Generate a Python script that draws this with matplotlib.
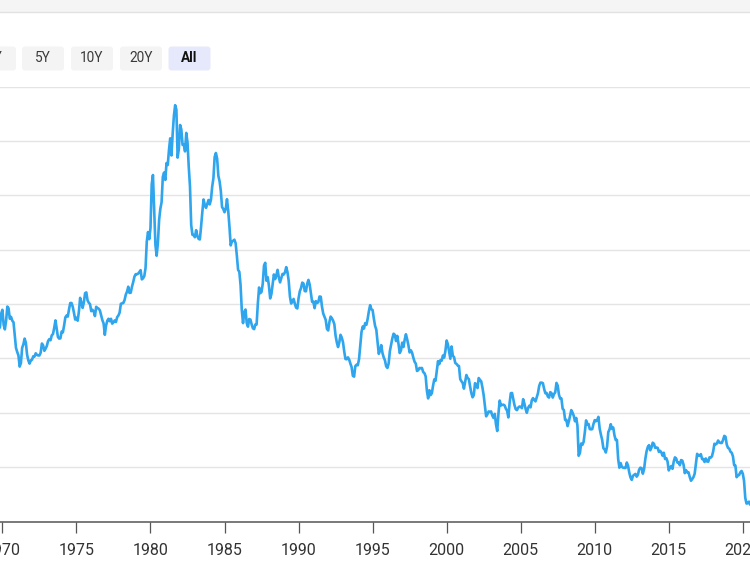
import matplotlib
matplotlib.use("Agg")
import matplotlib.pyplot as plt
from matplotlib.patches import FancyBboxPatch, Rectangle
import numpy as np

# ---- data: monthly values, starting Oct 1969 ----
start_year = 1969 + 9 / 12.0
vals_1969_1979 = [
    7.10, 7.14, 7.65,
    7.79, 7.24, 7.07, 7.39, 7.91, 7.84, 7.46, 7.53, 7.39, 7.33, 6.84, 6.39,
    6.24, 6.11, 5.70, 5.83, 6.39, 6.52, 6.73, 6.58, 6.14, 5.93, 5.81, 5.93,
    5.95, 6.08, 6.07, 6.19, 6.13, 6.11, 6.11, 6.21, 6.55, 6.48, 6.28, 6.36,
    6.46, 6.64, 6.71, 6.67, 6.85, 6.90, 7.13, 7.40, 7.09, 6.79, 6.73, 6.74,
    6.99, 6.96, 7.21, 7.51, 7.58, 7.54, 7.81, 8.04, 8.04, 7.90, 7.68, 7.43,
    7.50, 7.39, 7.73, 8.23, 8.06, 7.86, 8.06, 8.40, 8.43, 8.14, 8.05, 8.00,
    7.74, 7.79, 7.73, 7.56, 7.90, 7.86, 7.83, 7.77, 7.59, 7.41, 7.29, 6.87,
    7.21, 7.39, 7.46, 7.37, 7.46, 7.28, 7.33, 7.40, 7.34, 7.52, 7.58, 7.69,
    8.01, 8.03, 8.04, 8.15, 8.35, 8.46, 8.64, 8.41, 8.42, 8.64, 8.81, 9.01,
    9.10, 9.10, 9.12, 9.18, 9.25, 8.91, 8.95, 9.03, 9.33, 10.30, 10.65, 10.39,
]
vals_1980s = [
    10.80, 12.41, 12.75, 11.47, 10.18, 9.78, 10.25, 11.10, 11.51, 11.75, 12.68, 12.84,
    12.57, 13.19, 13.12, 13.68, 14.10, 13.47, 14.28, 14.94, 15.32, 15.15, 13.39, 13.72,
    14.59, 14.43, 13.86, 13.87, 13.62, 14.30, 13.95, 13.06, 12.34, 10.91, 10.55, 10.54,
    10.46, 10.72, 10.51, 10.40, 10.38, 10.85, 11.38, 11.85, 11.65, 11.54, 11.69, 11.83,
    11.67, 11.84, 12.32, 12.63, 13.41, 13.56, 13.36, 12.72, 12.52, 12.16, 11.57, 11.50,
    11.38, 11.51, 11.86, 11.43, 10.85, 10.16, 10.31, 10.33, 10.37, 10.24, 9.78, 9.26,
    9.19, 8.70, 7.78, 7.30, 7.71, 7.80, 7.30, 7.17, 7.45, 7.43, 7.25, 7.11,
    7.08, 7.25, 7.25, 8.02, 8.61, 8.40, 8.45, 8.76, 9.42, 9.52, 8.86, 8.99,
    8.67, 8.21, 8.37, 8.72, 9.09, 8.92, 9.06, 9.26, 8.98, 8.80, 8.96, 9.11,
    9.09, 9.17, 9.36, 9.18, 8.86, 8.28, 8.02, 8.11, 8.19, 8.01, 7.87, 7.84,
]
vals_1990s = [
    8.21, 8.47, 8.59, 8.79, 8.76, 8.48, 8.47, 8.75, 8.89, 8.72, 8.39, 8.08,
    8.09, 7.85, 8.11, 8.04, 8.07, 8.28, 8.27, 7.90, 7.65, 7.53, 7.42, 7.09,
    7.03, 7.34, 7.54, 7.48, 7.39, 7.26, 6.84, 6.59, 6.42, 6.59, 6.87, 6.77,
    6.60, 6.26, 5.98, 5.97, 6.04, 5.96, 5.81, 5.68, 5.36, 5.33, 5.72, 5.77,
    5.75, 5.97, 6.48, 6.97, 7.18, 7.10, 7.30, 7.24, 7.46, 7.74, 7.96, 7.81,
    7.78, 7.47, 7.20, 7.06, 6.63, 6.17, 6.28, 6.49, 6.20, 6.04, 5.93, 5.71,
    5.65, 5.81, 6.27, 6.51, 6.74, 6.91, 6.87, 6.64, 6.83, 6.53, 6.20, 6.30,
    6.58, 6.42, 6.69, 6.89, 6.71, 6.49, 6.22, 6.30, 6.21, 6.03, 5.88, 5.81,
    5.54, 5.57, 5.65, 5.64, 5.65, 5.50, 5.46, 5.34, 4.81, 4.53, 4.83, 4.65,
    4.72, 5.00, 5.23, 5.18, 5.54, 5.90, 5.79, 5.94, 5.92, 6.11, 6.03, 6.28,
]
vals_2000s = [
    6.66, 6.52, 6.26, 5.99, 6.44, 6.10, 6.05, 5.83, 5.80, 5.74, 5.72, 5.24,
    5.16, 5.10, 4.89, 5.14, 5.39, 5.28, 5.24, 4.97, 4.73, 4.57, 4.65, 5.09,
    5.04, 4.91, 5.28, 5.21, 5.16, 4.93, 4.65, 4.26, 3.87, 3.94, 4.05, 4.03,
    4.05, 3.90, 3.81, 3.96, 3.57, 3.33, 3.98, 4.45, 4.27, 4.29, 4.30, 4.27,
    4.15, 4.08, 3.83, 4.35, 4.72, 4.73, 4.50, 4.28, 4.13, 4.10, 4.19, 4.23,
    4.22, 4.17, 4.50, 4.34, 4.14, 4.00, 4.18, 4.26, 4.20, 4.46, 4.54, 4.47,
    4.42, 4.57, 4.72, 4.99, 5.11, 5.11, 5.09, 4.88, 4.72, 4.73, 4.60, 4.56,
    4.76, 4.72, 4.56, 4.69, 4.75, 5.10, 5.00, 4.67, 4.52, 4.53, 4.15, 4.10,
    3.74, 3.74, 3.51, 3.68, 3.88, 4.10, 4.01, 3.89, 3.69, 3.81, 3.53, 2.42,
    2.52, 2.87, 2.82, 2.93, 3.29, 3.72, 3.56, 3.59, 3.40, 3.39, 3.40, 3.59,
]
vals_2010s = [
    3.73, 3.69, 3.73, 3.85, 3.42, 3.20, 3.01, 2.70, 2.65, 2.54, 2.76, 3.29,
    3.39, 3.58, 3.41, 3.46, 3.17, 3.00, 3.00, 2.30, 1.98, 2.15, 2.01, 1.98,
    1.97, 1.97, 2.17, 2.05, 1.80, 1.62, 1.53, 1.68, 1.72, 1.75, 1.65, 1.72,
    1.91, 1.98, 1.96, 1.76, 1.93, 2.30, 2.58, 2.74, 2.81, 2.62, 2.72, 2.90,
    2.86, 2.71, 2.72, 2.71, 2.56, 2.60, 2.54, 2.42, 2.53, 2.30, 2.33, 2.21,
    1.88, 1.98, 2.04, 1.94, 2.20, 2.36, 2.32, 2.17, 2.17, 2.07, 2.26, 2.24,
    2.09, 1.78, 1.89, 1.81, 1.81, 1.64, 1.50, 1.56, 1.63, 1.76, 2.14, 2.49,
    2.43, 2.42, 2.48, 2.30, 2.30, 2.19, 2.32, 2.21, 2.20, 2.36, 2.35, 2.40,
    2.58, 2.86, 2.84, 2.87, 2.98, 2.91, 2.89, 2.89, 3.00, 3.15, 3.12, 2.83,
    2.71, 2.68, 2.57, 2.53, 2.40, 2.07, 2.06, 1.63, 1.70, 1.71, 1.81, 1.86,
]
vals_2020 = [1.76, 1.50, 0.87, 0.66, 0.67, 0.73, 0.62, 0.65, 0.68]

tick_years = [1970, 1975, 1980, 1985, 1990, 1995, 2000, 2005, 2010, 2015, 2020]
tick_labels = [str(y) for y in tick_years]
y_grid = [2, 4, 6, 8, 10, 12, 14, 16]
buttons = ["1Y", "5Y", "10Y", "20Y", "All"]
active_button = "All"

values = np.array(vals_1969_1979 + vals_1980s + vals_1990s + vals_2000s + vals_2010s + vals_2020)
xs = start_year + np.arange(len(values)) / 12.0

W, H = 750, 575
fig = plt.figure(figsize=(W / 100, H / 100), dpi=100)
fig.patch.set_facecolor("white")

# main axes
y0_px, y16_px = 521.5, 86.7
ax = fig.add_axes([0, (H - y0_px) / H, 1, (y0_px - y16_px) / H])
ax.plot(xs, values, color="#2fa5ee", lw=1.9, solid_joinstyle="round", zorder=3)
px_per_year = (742.8 - 2.4) / 50.0
ax.set_xlim(1970 - 2.4 / px_per_year, 2020 + (W - 742.8) / px_per_year)
ax.set_ylim(0, 16)
ax.set_yticks(y_grid)
ax.yaxis.grid(True, color="#e4e4e4", lw=1.0)
ax.tick_params(axis="y", left=False, labelleft=False)
ax.set_xticks(tick_years)
ax.set_xticklabels(tick_labels, fontfamily="Roboto", fontsize=11.5, color="#333333")
ax.tick_params(axis="x", length=7.7, width=0.9, color="#555555", pad=7.5)
for s in ["top", "left", "right"]:
    ax.spines[s].set_visible(False)
ax.spines["bottom"].set_color("#555555")
ax.spines["bottom"].set_linewidth(1.1)
ax.set_axisbelow(True)
ax.set_facecolor("none")

# overlay for UI elements in pixel coordinates
ov = fig.add_axes([0, 0, 1, 1], zorder=5)
ov.set_xlim(0, W)
ov.set_ylim(H, 0)
ov.axis("off")
ov.patch.set_alpha(0)
ov.add_patch(Rectangle((0, 0), W, 11.5, facecolor="#f5f5f5", edgecolor="none"))
ov.plot([0, W], [11.5, 11.5], color="#e2e2e2", lw=1.0)

centers = [-5, 43, 92, 141, 189.5]
for lab, cx in zip(buttons, centers):
    active = lab == active_button
    ov.add_patch(FancyBboxPatch((cx - 21, 46.5), 42, 24,
                                boxstyle="round,pad=0,rounding_size=3",
                                facecolor="#e6e8fb" if active else "#f4f4f4",
                                edgecolor="none"))
    ov.text(cx, 58.5, lab, ha="center", va="center", fontfamily="Roboto",
            fontsize=9.8, fontweight="bold" if active else "normal",
            color="#111111" if active else "#3a3a3a")

fig.savefig("out.png", dpi=100)
